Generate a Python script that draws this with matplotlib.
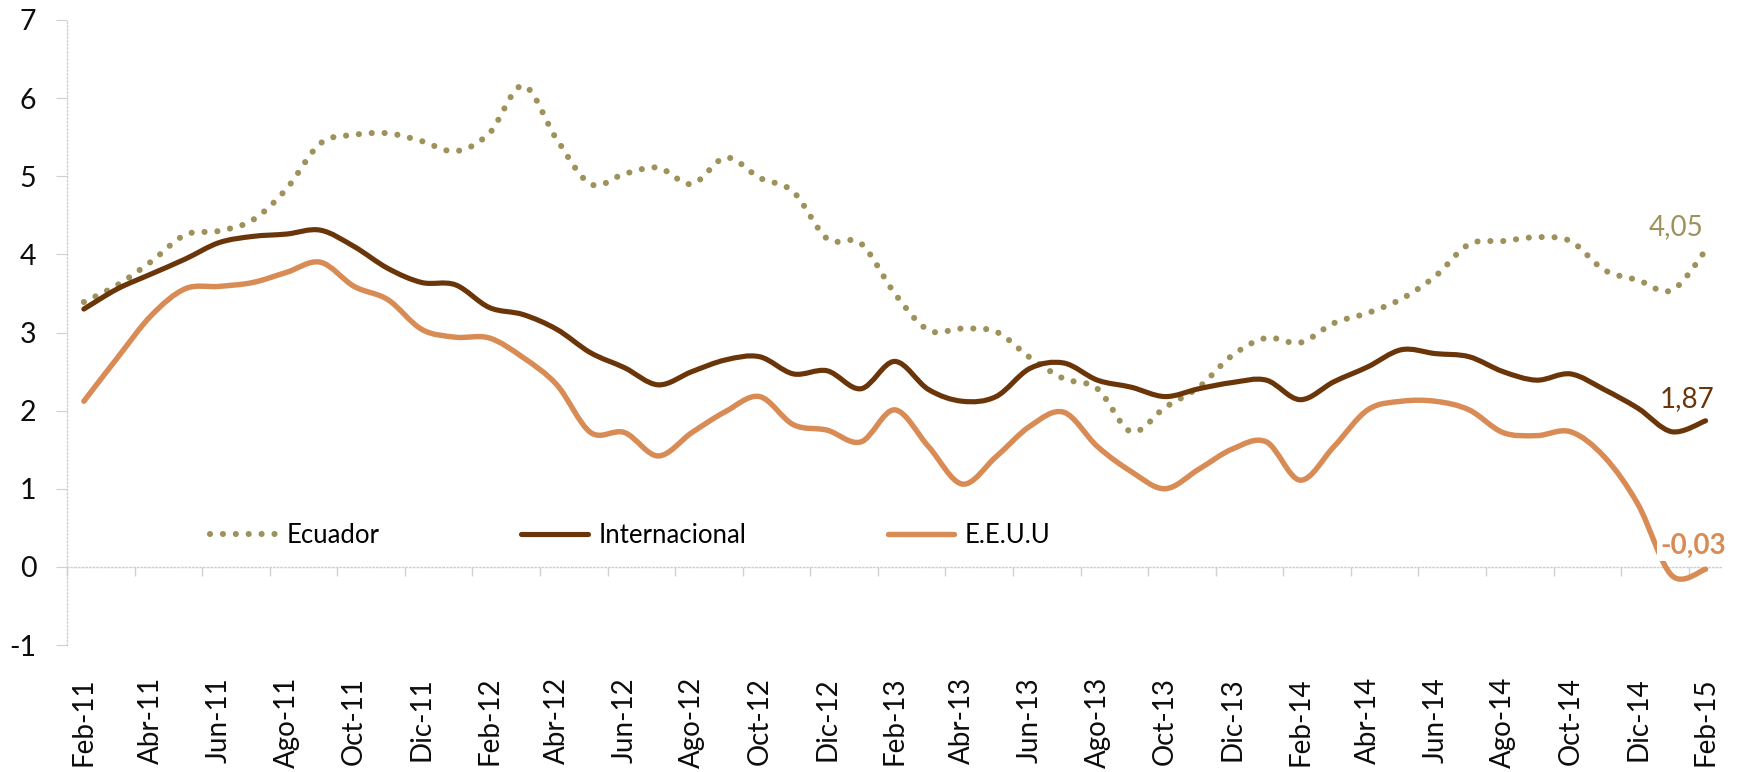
import numpy as np
import matplotlib
matplotlib.use('Agg')
import matplotlib.pyplot as plt
from matplotlib.path import Path
from matplotlib.patches import PathPatch
from matplotlib.lines import Line2D

# datos mensuales Feb-11 .. Feb-15
ecuador = [3.39, 3.61, 3.91, 4.25, 4.30, 4.44, 4.84, 5.42, 5.53, 5.55, 5.45, 5.32,
           5.55, 6.16, 5.47, 4.90, 5.03, 5.11, 4.90, 5.24, 4.98, 4.80, 4.20, 4.14,
           3.50, 3.03, 3.05, 3.01, 2.68, 2.41, 2.28, 1.73, 2.04, 2.30, 2.71, 2.93,
           2.87, 3.12, 3.25, 3.43, 3.72, 4.13, 4.17, 4.22, 4.17, 3.80, 3.67, 3.54, 4.05]
internacional = [3.30, 3.56, 3.75, 3.94, 4.15, 4.23, 4.26, 4.31, 4.10, 3.82, 3.64, 3.61,
                 3.32, 3.23, 3.04, 2.74, 2.55, 2.33, 2.50, 2.65, 2.69, 2.47, 2.51, 2.28,
                 2.63, 2.27, 2.12, 2.18, 2.54, 2.61, 2.39, 2.30, 2.18, 2.28, 2.36, 2.39,
                 2.14, 2.37, 2.56, 2.78, 2.73, 2.69, 2.50, 2.39, 2.47, 2.27, 2.03, 1.73, 1.87]
eeuu = [2.12, 2.68, 3.22, 3.56, 3.59, 3.64, 3.77, 3.90, 3.59, 3.42, 3.04, 2.94,
        2.93, 2.68, 2.33, 1.72, 1.72, 1.42, 1.72, 1.99, 2.18, 1.82, 1.75, 1.60,
        2.01, 1.54, 1.06, 1.41, 1.80, 1.98, 1.54, 1.22, 1.00, 1.25, 1.51, 1.60,
        1.11, 1.54, 2.01, 2.12, 2.12, 2.01, 1.72, 1.68, 1.73, 1.41, 0.80, -0.11, -0.03]

tick_labels = ['Feb-11', 'Abr-11', 'Jun-11', 'Ago-11', 'Oct-11', 'Dic-11',
               'Feb-12', 'Abr-12', 'Jun-12', 'Ago-12', 'Oct-12', 'Dic-12',
               'Feb-13', 'Abr-13', 'Jun-13', 'Ago-13', 'Oct-13', 'Dic-13',
               'Feb-14', 'Abr-14', 'Jun-14', 'Ago-14', 'Oct-14', 'Dic-14', 'Feb-15']

c_ecu = '#9e915b'
c_int = '#6b350a'
c_usa = '#d98b55'
grid_c = '#d0d0d0'

plt.rcParams['font.family'] = ['Lato', 'DejaVu Sans']
plt.rcParams['axes.unicode_minus'] = False


def smooth_path(y):
    # curva suavizada tipo Excel (bezier catmull-rom)
    x = np.arange(len(y), dtype=float)
    y = np.asarray(y, dtype=float)
    pts = np.column_stack([x, y])
    verts = [pts[0]]
    codes = [Path.MOVETO]
    n = len(pts)
    for i in range(n - 1):
        p0 = pts[max(i - 1, 0)]
        p1 = pts[i]
        p2 = pts[i + 1]
        p3 = pts[min(i + 2, n - 1)]
        verts += [p1 + (p2 - p0) / 6, p2 - (p3 - p1) / 6, p2]
        codes += [Path.CURVE4] * 3
    return Path(verts, codes)


fig = plt.figure(figsize=(17.39, 7.72), dpi=100)
ax = fig.add_axes([0.0385, 0.1645, 0.952, 0.8096])

series = [
    (ecuador, 'Ecuador', c_ecu, (0, (0.01, 2.1)), 4.4),
    (internacional, 'Internacional', c_int, '-', 3.7),
    (eeuu, 'E.E.U.U', c_usa, '-', 3.9),
]
handles = []
for vals, name, col, ls, lw in series:
    patch = PathPatch(smooth_path(vals), fill=False, edgecolor=col, lw=lw,
                      linestyle=ls, capstyle='round', joinstyle='round', zorder=3)
    ax.add_patch(patch)
    handles.append(Line2D([], [], color=col, lw=lw, linestyle=ls,
                          dash_capstyle='round', solid_capstyle='round'))

ax.set_xlim(-0.5, len(ecuador) - 0.5)
ax.set_ylim(-1, 7)

ax.set_xticks(range(0, len(ecuador), 2))
ax.set_xticklabels(tick_labels, rotation=90, fontsize=20,
                   family=['Liberation Sans Narrow', 'Lato', 'DejaVu Sans'])
ax.tick_params(axis='x', length=0, pad=23, colors='#0d0d0d')
ax.set_yticks(range(-1, 8))
ax.tick_params(axis='y', length=8, color=grid_c, pad=14, labelsize=20.5,
               labelcolor='#0d0d0d')

for s in ['top', 'right', 'bottom']:
    ax.spines[s].set_visible(False)
ax.spines['left'].set_color(grid_c)
ax.spines['left'].set_linestyle(':')
ax.spines['left'].set_linewidth(1)

# eje en cero con marcas cada 2 meses
sec = ax.secondary_xaxis(0.125)
sec.set_xticks(np.arange(-0.5, len(ecuador), 2))
sec.set_xticklabels([])
sec.tick_params(axis='x', length=6.5, color=grid_c, width=1)
for s in sec.spines.values():
    s.set_color(grid_c)
    s.set_linestyle(':')
    s.set_linewidth(1)

ax.legend(handles, ['Ecuador', 'Internacional', 'E.E.U.U'], ncol=3, frameon=False,
          loc='center left', bbox_to_anchor=(0.0864, 0.176), borderpad=0,
          borderaxespad=0, handlelength=2.6, handletextpad=0.4,
          columnspacing=5.5, fontsize=18.5)

last = len(ecuador) - 1
ax.annotate('4,05', xy=(last, ecuador[-1]), xytext=(-21, 17),
            textcoords='offset points', ha='center', va='center',
            fontsize=20, color=c_ecu)
ax.annotate('1,87', xy=(last, internacional[-1]), xytext=(-13, 16),
            textcoords='offset points', ha='center', va='center',
            fontsize=20, color=c_int)
ax.annotate('-0,03', xy=(last, eeuu[-1]), xytext=(-9, 17),
            textcoords='offset points', ha='center', va='center',
            fontsize=20, color=c_usa, fontweight='bold', zorder=5,
            bbox=dict(boxstyle='square,pad=0.1', fc='white', ec='none'))

fig.savefig('out.png', dpi=100)
